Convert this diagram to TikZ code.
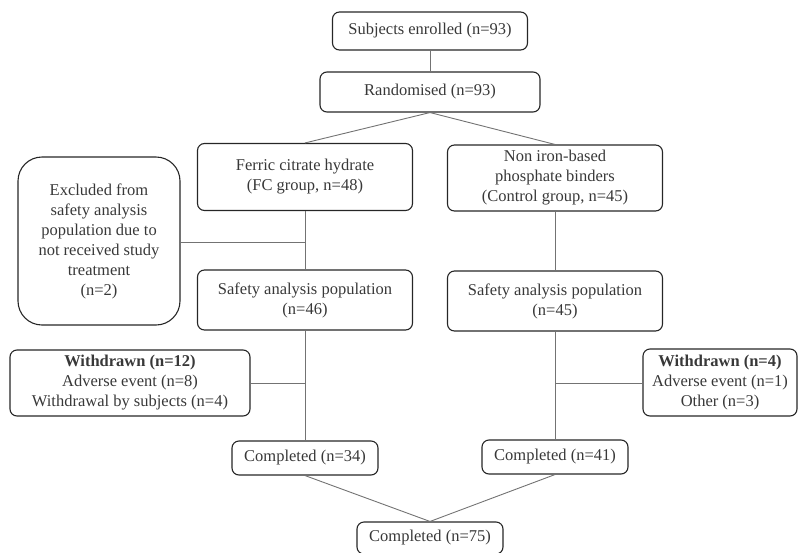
\documentclass[tikz,border=0pt]{standalone}
\usepackage{fontspec}
\setmainfont{Liberation Serif}
\begin{document}
\begin{tikzpicture}[x=1pt,y=-1pt,
  box/.style={draw=black!85,line width=1.1pt,rounded corners=7pt,align=center,inner sep=0pt,font=\fontsize{16.5}{20}\selectfont,text=black!78},
  conn/.style={draw=black!55,line width=0.9pt}]
\useasboundingbox (0,0) rectangle (798,552);
\node[box,minimum width=195,minimum height=38] (enr) at (430,31) {Subjects enrolled (n=93)};
\node[box,minimum width=220,minimum height=40] (rand) at (430,92) {Randomised (n=93)};
\node[box,minimum width=215,minimum height=67] (fc) at (305,177) {Ferric citrate hydrate\\(FC group, n=48)};
\node[box,minimum width=215,minimum height=66] (ctl) at (555,178) {Non iron-based\\phosphate binders\\(Control group, n=45)};
\node[box,minimum width=162,minimum height=168,rounded corners=24pt] (exc) at (99,241) {Excluded from\\safety analysis\\population due to\\not received study\\treatment\\(n=2)};
\node[box,minimum width=215,minimum height=60] (sfc) at (305,300) {Safety analysis population\\(n=46)};
\node[box,minimum width=215,minimum height=60] (sctl) at (555,301) {Safety analysis population\\(n=45)};
\node[box,minimum width=240,minimum height=66] (wl) at (130,383) {\textbf{Withdrawn (n=12)}\\Adverse event (n=8)\\Withdrawal by subjects (n=4)};
\node[box,minimum width=154,minimum height=67] (wr) at (720,382.5) {\textbf{Withdrawn (n=4)}\\Adverse event (n=1)\\Other (n=3)};
\node[box,minimum width=146,minimum height=34] (c34) at (305,458) {Completed (n=34)};
\node[box,minimum width=146,minimum height=34] (c41) at (555,457) {Completed (n=41)};
\node[box,minimum width=146,minimum height=32] (c75) at (430,538) {Completed (n=75)};
\coordinate (j1) at (305,242);
\coordinate (j2) at (305,383);
\coordinate (j3) at (555,383);
\draw[conn] (enr) -- (rand);
\draw[conn] (rand.south) -- (fc.north);
\draw[conn] (rand.south) -- (ctl.north);
\draw[conn] (fc) -- (sfc);
\draw[conn] (ctl) -- (sctl);
\draw[conn] (exc.east |- j1) -- (j1);
\draw[conn] (sfc) -- (c34);
\draw[conn] (sctl) -- (c41);
\draw[conn] (wl.east |- j2) -- (j2);
\draw[conn] (j3) -- (wr.west |- j3);
\draw[conn] (c34.south) -- (c75.north);
\draw[conn] (c41.south) -- (c75.north);
\end{tikzpicture}
\end{document}
